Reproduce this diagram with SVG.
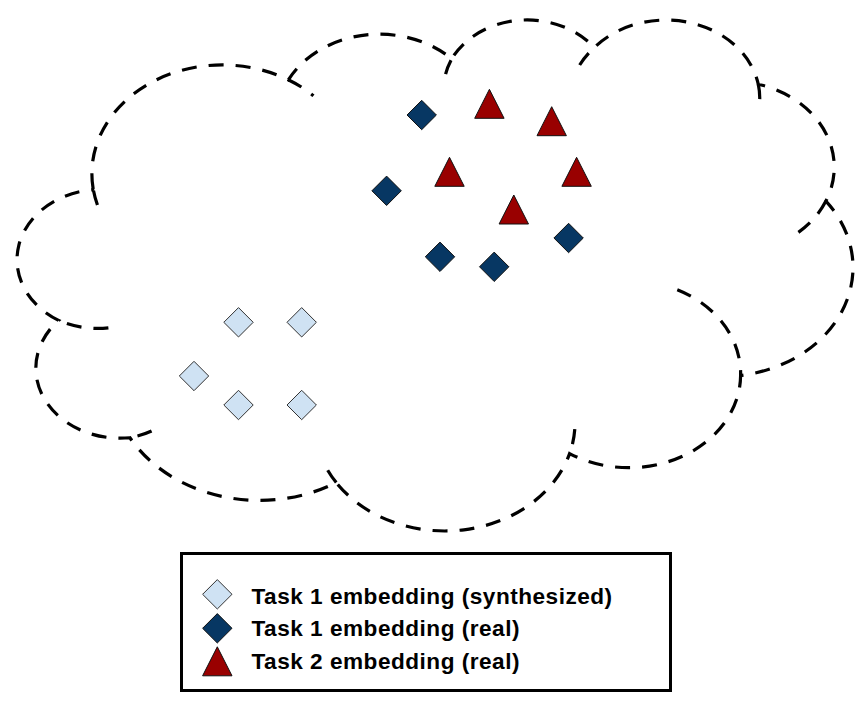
<svg xmlns="http://www.w3.org/2000/svg" xmlns:xlink="http://www.w3.org/1999/xlink" width="868" height="713" viewBox="0 0 868 713">
<style>
.cloud{fill:none;stroke:#000;stroke-width:3.2;stroke-dasharray:15 12;stroke-linecap:butt}
.light{fill:#cfe2f3;stroke:#333;stroke-width:1}
.dark{fill:#073763;stroke:#111;stroke-width:1}
.red{fill:#990000;stroke:#111;stroke-width:1}
.lbl{font-family:"Liberation Sans",Arial,sans-serif;font-weight:bold;font-size:22.6px;letter-spacing:0.5px;fill:#000}
</style>
<defs>
<polygon id="dia" points="0,-14.7 14.7,0 0,14.7 -14.7,0"/>
<polygon id="tri" points="0,0 14.7,29 -14.7,29"/>
</defs>
<rect width="868" height="713" fill="#fff"/>
<g id="cloud">
<path class="cloud" d="M 93.07 188.23 A 130.51 108.67 0 0 1 288.36 79.82 A 103.07 85.93 0 0 1 451.72 58.88 A 84.36 70.30 0 0 1 594.27 47.61 A 93.87 77.99 0 0 1 758.26 84.20 A 103.07 86.00 0 0 1 825.91 201.08 A 130.93 109.03 0 0 1 740.61 375.42 A 111.80 93.03 0 0 1 569.60 453.58 A 130.49 108.97 0 0 1 336.24 482.59 A 149.20 124.67 0 0 1 129.91 437.73 A 84.26 69.98 0 0 1 58.58 320.40 A 83.97 70.30 0 0 1 92.39 189.80 Z"/>
<path class="cloud" d="M 108.40 327.84 A 83.97 70.30 0 0 1 58.58 320.40 M 151.59 430.98 A 84.26 69.98 0 0 1 129.91 437.73 M 336.24 482.59 A 130.49 108.97 0 0 1 323.32 461.98 M 574.81 429.23 A 130.49 108.97 0 0 1 569.60 453.58 M 677.28 289.73 A 111.80 93.03 0 0 1 740.61 375.42 M 825.91 201.08 A 103.07 86.00 0 0 1 797.91 232.73 M 758.26 84.20 A 93.87 77.99 0 0 1 759.74 99.14 M 579.66 65.03 A 93.87 77.99 0 0 1 594.27 47.61 M 445.60 74.11 A 84.36 70.30 0 0 1 451.72 58.88 M 288.26 79.70 A 130.51 108.67 0 0 1 313.48 95.76 M 97.45 205.0 A 130.51 108.67 0 0 1 93.07 188.23"/>
</g>
<g id="task1-real">
<g id="d1"><use xlink:href="#dia" href="#dia" class="dark" x="421.7" y="115"/></g>
<g id="d2"><use xlink:href="#dia" href="#dia" class="dark" x="386.6" y="190.8"/></g>
<g id="d3"><use xlink:href="#dia" href="#dia" class="dark" x="440" y="256.8"/></g>
<g id="d4"><use xlink:href="#dia" href="#dia" class="dark" x="494.2" y="266.8"/></g>
<g id="d5"><use xlink:href="#dia" href="#dia" class="dark" x="568.6" y="238"/></g>
</g>
<g id="task2-real">
<g id="t1"><use xlink:href="#tri" href="#tri" class="red" x="489.4" y="89.3"/></g>
<g id="t2"><use xlink:href="#tri" href="#tri" class="red" x="551.7" y="106.7"/></g>
<g id="t3"><use xlink:href="#tri" href="#tri" class="red" x="449.5" y="157.3"/></g>
<g id="t4"><use xlink:href="#tri" href="#tri" class="red" x="576.6" y="157.3"/></g>
<g id="t5"><use xlink:href="#tri" href="#tri" class="red" x="513.8" y="195"/></g>
</g>
<g id="task1-synth">
<g id="s1"><use xlink:href="#dia" href="#dia" class="light" x="238.5" y="322.3"/></g>
<g id="s2"><use xlink:href="#dia" href="#dia" class="light" x="301.7" y="322.3"/></g>
<g id="s3"><use xlink:href="#dia" href="#dia" class="light" x="194" y="376"/></g>
<g id="s4"><use xlink:href="#dia" href="#dia" class="light" x="238.5" y="405"/></g>
<g id="s5"><use xlink:href="#dia" href="#dia" class="light" x="301.7" y="405"/></g>
</g>
<g id="legend">
<rect x="181.5" y="553.5" width="489" height="137" fill="#fff" stroke="#000" stroke-width="3"/>
<use xlink:href="#dia" href="#dia" class="light" x="217.3" y="594.3"/>
<use xlink:href="#dia" href="#dia" class="dark" x="217.3" y="628.3"/>
<use xlink:href="#tri" href="#tri" class="red" x="217.3" y="646.8"/>
<text class="lbl" x="251.5" y="603.6">Task 1 embedding (synthesized)</text>
<text class="lbl" x="251.5" y="636">Task 1 embedding (real)</text>
<text class="lbl" x="251.5" y="668.5">Task 2 embedding (real)</text>
</g>
</svg>
